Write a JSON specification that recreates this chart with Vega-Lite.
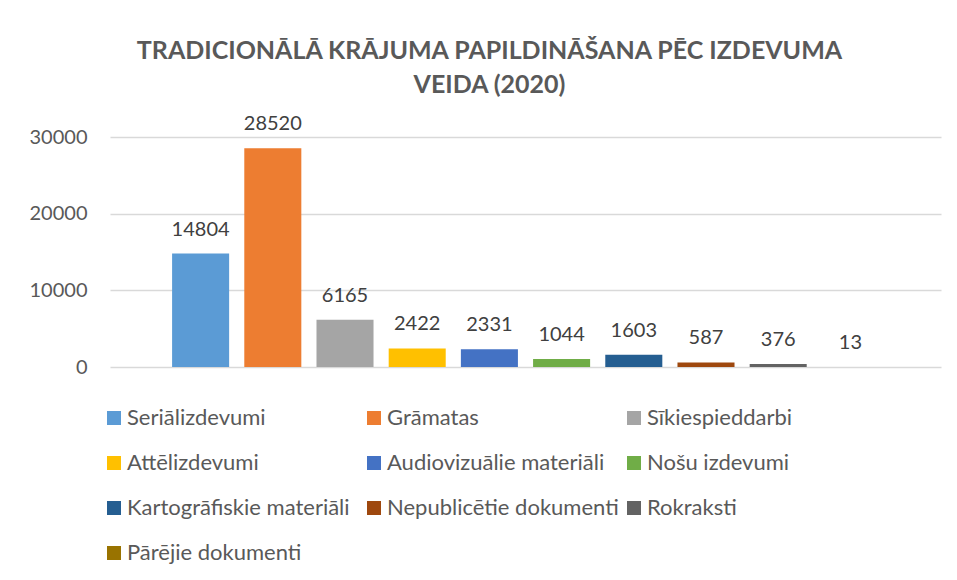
{
  "$schema": "https://vega.github.io/schema/vega-lite/v6.json",
  "width": 831,
  "height": 230,
  "autosize": {"type": "none"},
  "padding": {"left": 110, "top": 137, "right": 16, "bottom": 213},
  "background": "white",
  "config": {"view": {"stroke": null}},
  "title": {
    "text": ["TRADICIONĀLĀ KRĀJUMA PAPILDINĀŠANA PĒC IZDEVUMA", "VEIDA (2020)"],
    "font": "Lato",
    "fontSize": 25,
    "fontWeight": "bold",
    "color": "#595959",
    "anchor": "middle",
    "dx": -36,
    "offset": 16,
    "lineHeight": 34
  },
  "data": {
    "values": [
      {"veids": "Seriālizdevumi", "skaits": 14804},
      {"veids": "Grāmatas", "skaits": 28520},
      {"veids": "Sīkiespieddarbi", "skaits": 6165},
      {"veids": "Attēlizdevumi", "skaits": 2422},
      {"veids": "Audiovizuālie materiāli", "skaits": 2331},
      {"veids": "Nošu izdevumi", "skaits": 1044},
      {"veids": "Kartogrāfiskie materiāli", "skaits": 1603},
      {"veids": "Nepublicētie dokumenti", "skaits": 587},
      {"veids": "Rokraksti", "skaits": 376},
      {"veids": "Pārējie dokumenti", "skaits": 13}
    ]
  },
  "encoding": {
    "x": {
      "field": "veids",
      "type": "nominal",
      "sort": null,
      "axis": null,
      "scale": {"paddingInner": 0.21, "paddingOuter": 0.86}
    },
    "y": {
      "field": "skaits",
      "type": "quantitative",
      "scale": {"domain": [0, 30000], "nice": false},
      "axis": {
        "title": null,
        "values": [0, 10000, 20000, 30000],
        "format": "d",
        "domain": false,
        "ticks": false,
        "labelPadding": 23,
        "labelFont": "Lato",
        "labelFontSize": 20,
        "labelColor": "#595959",
        "gridColor": "#d9d9d9",
        "gridWidth": 1.5
      }
    }
  },
  "layer": [
    {
      "mark": {"type": "bar"},
      "encoding": {
        "color": {
          "field": "veids",
          "type": "nominal",
          "sort": null,
          "scale": {
            "domain": ["Seriālizdevumi", "Grāmatas", "Sīkiespieddarbi", "Attēlizdevumi", "Audiovizuālie materiāli", "Nošu izdevumi", "Kartogrāfiskie materiāli", "Nepublicētie dokumenti", "Rokraksti", "Pārējie dokumenti"],
            "range": ["#5B9BD5", "#ED7D31", "#A5A5A5", "#FFC000", "#4472C4", "#70AD47", "#255E91", "#9E480E", "#636363", "#997300"]
          },
          "legend": {
            "title": null,
            "orient": "none",
            "direction": "horizontal",
            "legendX": -7,
            "legendY": 270,
            "columns": 3,
            "gridAlign": "all",
            "columnPadding": 4,
            "rowPadding": 23,
            "symbolType": "square",
            "symbolSize": 196,
            "symbolStrokeWidth": 0,
            "labelOffset": 2,
            "labelFont": "Lato",
            "labelFontSize": 22,
            "labelColor": "#595959",
            "labelLimit": 400
          }
        }
      }
    },
    {
      "mark": {"type": "text", "baseline": "alphabetic", "dy": -18, "font": "Lato", "fontSize": 20, "color": "#404040"},
      "encoding": {
        "text": {"field": "skaits", "type": "quantitative", "format": "d"}
      }
    }
  ]
}
